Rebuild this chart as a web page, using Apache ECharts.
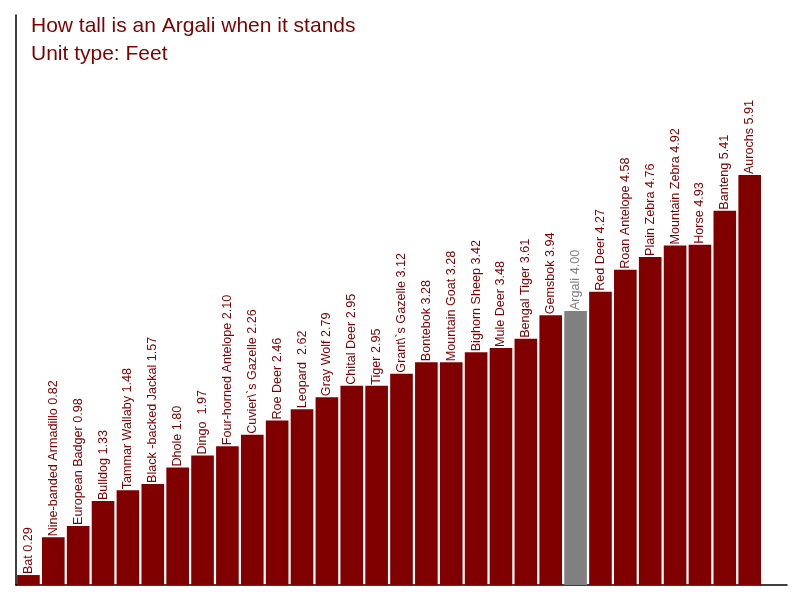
<!DOCTYPE html>
<html>
<head>
<meta charset="utf-8">
<script src="https://cdn.jsdelivr.net/npm/echarts@6/dist/echarts.min.js"></script>
<style>
  html, body { margin: 0; padding: 0; background: #fff; }
  #main { width: 800px; height: 600px; }
</style>
</head>
<body>
<div id="main"></div>
<script>
var animals = ['Bat', 'Nine-banded Armadillo', 'European Badger', 'Bulldog', 'Tammar Wallaby',
  'Black -backed Jackal', 'Dhole', 'Dingo ', 'Four-horned Antelope', 'Cuvier\\`s Gazelle',
  'Roe Deer', 'Leopard ', 'Gray Wolf', 'Chital Deer', 'Tiger', 'Grant\\`s Gazelle', 'Bontebok',
  'Mountain Goat', 'Bighorn Sheep', 'Mule Deer', 'Bengal Tiger', 'Gemsbok', 'Argali', 'Red Deer',
  'Roan Antelope', 'Plain Zebra', 'Mountain Zebra', 'Horse', 'Banteng', 'Aurochs'];
var heights = [0.29, 0.82, 0.98, 1.33, 1.48, 1.57, 1.80, 1.97, 2.10, 2.26, 2.46, 2.62, 2.79, 2.95,
  2.95, 3.12, 3.28, 3.28, 3.42, 3.48, 3.61, 3.94, 4.00, 4.27, 4.58, 4.76, 4.92, 4.93, 5.41, 5.91];
var highlight = 'Argali';

var red = '#800000';
var grey = '#808080';

var chartDom = document.getElementById('main');
var myChart = echarts.init(chartDom);

var barData = heights.map(function (v, i) {
  var c = animals[i] == highlight ? grey : red;
  return {
    value: v,
    itemStyle: { color: c },
    label: { color: c }
  };
});

var option = {
  animation: false,
  textStyle: { fontFamily: 'Liberation Sans' },
  title: {
    text: 'How tall is an Argali when it stands\nUnit type: Feet',
    left: 26,
    top: 7,
    textStyle: {
      color: red,
      fontSize: 21,
      fontWeight: 'normal',
      lineHeight: 28,
      fontFamily: 'Liberation Sans'
    }
  },
  grid: { left: 16, right: 13, top: 15, bottom: 15, containLabel: false },
  xAxis: {
    type: 'category',
    data: animals,
    max: 30,
    axisLine: { lineStyle: { color: '#000', width: 1.5 } },
    axisTick: { show: false },
    axisLabel: { show: false },
    splitLine: { show: false }
  },
  yAxis: {
    type: 'value',
    min: 0.15,
    max: 8.16,
    axisLine: { show: true, onZero: false, lineStyle: { color: '#000', width: 1.5 } },
    axisTick: { show: false },
    axisLabel: { show: false },
    splitLine: { show: false }
  },
  series: [{
    type: 'bar',
    data: barData,
    barCategoryGap: '9%',
    label: {
      show: true,
      position: 'top',
      rotate: 90,
      align: 'left',
      verticalAlign: 'middle',
      distance: 1,
      fontSize: 12.6,
      fontFamily: 'Liberation Sans',
      formatter: function (p) {
        return p.name + ' ' + p.value.toFixed(2);
      }
    }
  }]
};

option && myChart.setOption(option);
</script>
</body>
</html>
